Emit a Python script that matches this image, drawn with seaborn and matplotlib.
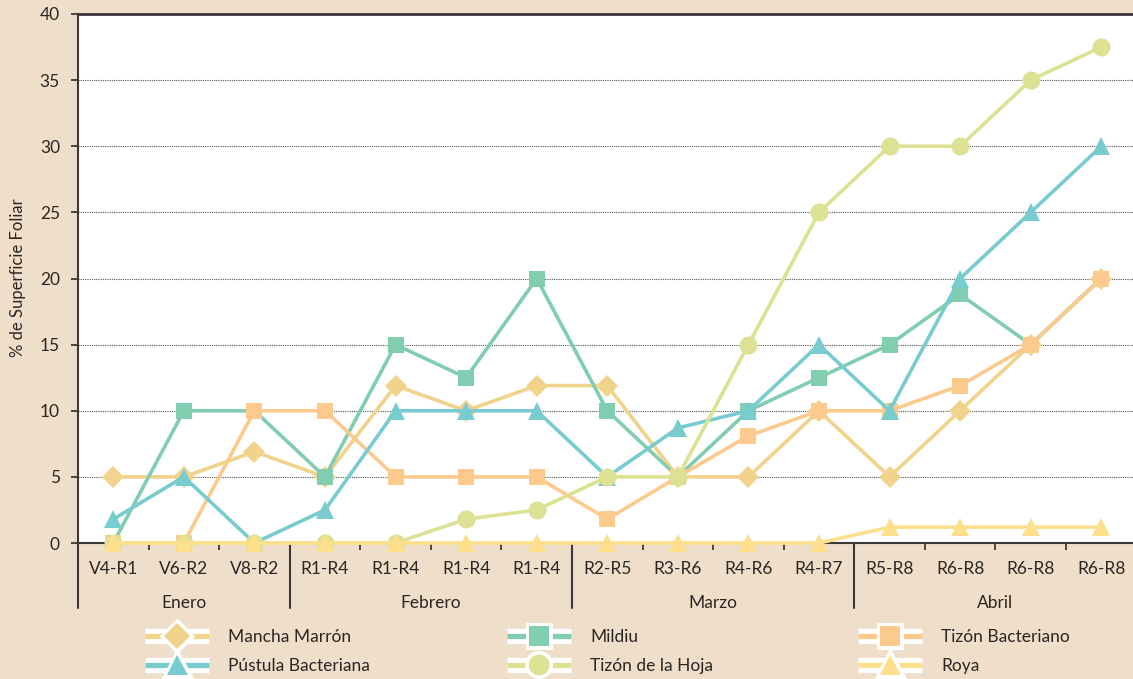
import matplotlib
matplotlib.use('Agg')
from matplotlib import pyplot as plt
from matplotlib.lines import Line2D
from matplotlib.legend_handler import HandlerTuple
import matplotlib.patheffects as pe
import matplotlib.transforms as mtransforms
import seaborn as sns
import pandas as pd

####### DATA #######
x_labels = ['V4-R1', 'V6-R2', 'V8-R2', 'R1-R4', 'R1-R4', 'R1-R4', 'R1-R4',
            'R2-R5', 'R3-R6', 'R4-R6', 'R4-R7', 'R5-R8', 'R6-R8', 'R6-R8', 'R6-R8']
months = ['Enero', 'Febrero', 'Marzo', 'Abril']
month_sizes = [3, 4, 4, 4]

mancha = [5, 5, 6.9, 5, 11.9, 10, 11.9, 11.9, 5, 5, 10, 5, 10, 15, 20]
mildiu = [0, 10, 10, 5, 15, 12.5, 20, 10, 5, 10, 12.5, 15, 18.8, 15, 20]
tizon_bact = [0, 0, 10, 10, 5, 5, 5, 1.8, 5, 8.1, 10, 10, 11.9, 15, 20]
pustula = [1.8, 5, 0, 2.5, 10, 10, 10, 5, 8.7, 10, 15, 10, 20, 25, 30]
tizon_hoja = [0, 0, 0, 0, 0, 1.8, 2.5, 5, 5, 15, 25, 30, 30, 35, 37.5]
roya = [0, 0, 0, 0, 0, 0, 0, 0, 0, 0, 0, 1.2, 1.2, 1.2, 1.2]

series = {'Mancha Marrón': mancha, 'Mildiu': mildiu, 'Tizón Bacteriano': tizon_bact,
          'Pústula Bacteriana': pustula, 'Tizón de la Hoja': tizon_hoja, 'Roya': roya}
##### END DATA #####

####### PLOT PARAMS #######
BG = '#efdfca'
TXT = '#2b2623'
MY_PAL = {'Mancha Marrón': '#f1d38b', 'Mildiu': '#80cdb0', 'Tizón Bacteriano': '#fdca8e',
          'Pústula Bacteriana': '#78ccd0', 'Tizón de la Hoja': '#dde193', 'Roya': '#fddf8c'}
MARKERS = {'Mancha Marrón': 'D', 'Mildiu': 's', 'Tizón Bacteriano': 's',
           'Pústula Bacteriana': '^', 'Tizón de la Hoja': 'o', 'Roya': '^'}
MSIZE = {'D': 11, 's': 12, '^': 13, 'o': 13}
##### END PLOT PARAMS #####

sns.set_style('white')
plt.rcParams['font.family'] = ['Lato', 'DejaVu Sans']
plt.rcParams['text.color'] = TXT

fig = plt.figure(figsize=(11.33, 6.79), dpi=100, facecolor=BG)
ax = fig.add_axes([78 / 1133, 1 - 543 / 679, 1 - 78 / 1133, (543 - 14) / 679])
ax.set_facecolor('white')

pos = list(range(len(x_labels)))
for name, vals in series.items():
    df = pd.DataFrame({'pos': pos, 'valor': vals})
    m = MARKERS[name]
    sns.lineplot(data=df, x='pos', y='valor', ax=ax, color=MY_PAL[name], linewidth=2.6,
                 marker=m, markersize=MSIZE[m], markeredgewidth=0, sort=False)
for line in ax.lines:
    line.set_clip_on(False)
    line.set_zorder(3)

ax.set_xlim(-0.5, 14.45)
ax.set_ylim(0, 40)
ax.set_yticks(range(0, 41, 5))
ax.set_xticks(pos)
ax.set_xticklabels(x_labels)
ax.set_xticks([p + 0.5 for p in pos[:-1]], minor=True)
ax.set_xlabel('')
ax.set_ylabel('')
ax.yaxis.grid(True, linestyle=(0, (1, 1)), color='#555555', linewidth=0.8)
ax.xaxis.grid(False)

for s in ['left', 'bottom', 'top']:
    ax.spines[s].set_color('#3d3835')
    ax.spines[s].set_linewidth(1.5)
ax.spines['top'].set_linewidth(2)
ax.spines['right'].set_visible(False)

ax.tick_params(axis='y', left=True, length=5, width=1.3, color='#3d3835', pad=8,
               labelsize=12.5, labelcolor=TXT)
ax.tick_params(axis='x', which='major', length=0, pad=13, labelsize=12.5, labelcolor=TXT)
ax.tick_params(axis='x', which='minor', bottom=True, length=5, width=1.3, color='#3d3835')

# month groups
trans = mtransforms.blended_transform_factory(ax.transData, ax.transAxes)
start = 0
bounds = [-0.5]
for month, n in zip(months, month_sizes):
    ax.text(start + (n - 1) / 2, -0.113, month, transform=trans, ha='center', va='center',
            fontsize=12.5, color=TXT)
    start += n
    bounds.append(start - 0.5)
for b in bounds[:-1]:
    ax.plot([b, b], [0, -0.123], transform=trans, color='#3d3835', linewidth=1.5,
            clip_on=False, zorder=2)

fig.text(18 / 1133, 1 - 278 / 679, '% de Superficie Foliar', rotation=90,
         ha='center', va='center', fontsize=12, color=TXT)

# legend, three columns
cols = [['Mancha Marrón', 'Pústula Bacteriana'], ['Mildiu', 'Tizón de la Hoja'],
        ['Tizón Bacteriano', 'Roya']]
col_x = [145, 507, 858]
for names, x in zip(cols, col_x):
    handles = []
    for name in names:
        m = MARKERS[name]
        ln = Line2D([0], [0], color=MY_PAL[name], linewidth=3.8, solid_capstyle='butt',
                    path_effects=[pe.withStroke(linewidth=11, foreground='white',
                                                capstyle='butt')])
        mk = Line2D([0], [0], color=MY_PAL[name], linestyle='none', marker=m,
                    markersize=MSIZE[m] + 2, markeredgewidth=0,
                    path_effects=[pe.withStroke(linewidth=5, foreground='white')])
        handles.append((ln, mk))
    leg = fig.legend(handles, names, loc='center left', bbox_to_anchor=(x / 1133, 1 - 651.5 / 679),
                     frameon=False, borderpad=0, borderaxespad=0, handlelength=3.7,
                     handletextpad=1.1, labelspacing=0.75, fontsize=12.5,
                     handler_map={tuple: HandlerTuple(ndivide=1, pad=0)})
    for t in leg.get_texts():
        t.set_color(TXT)

fig.savefig('out.png', dpi=100, facecolor=BG)
